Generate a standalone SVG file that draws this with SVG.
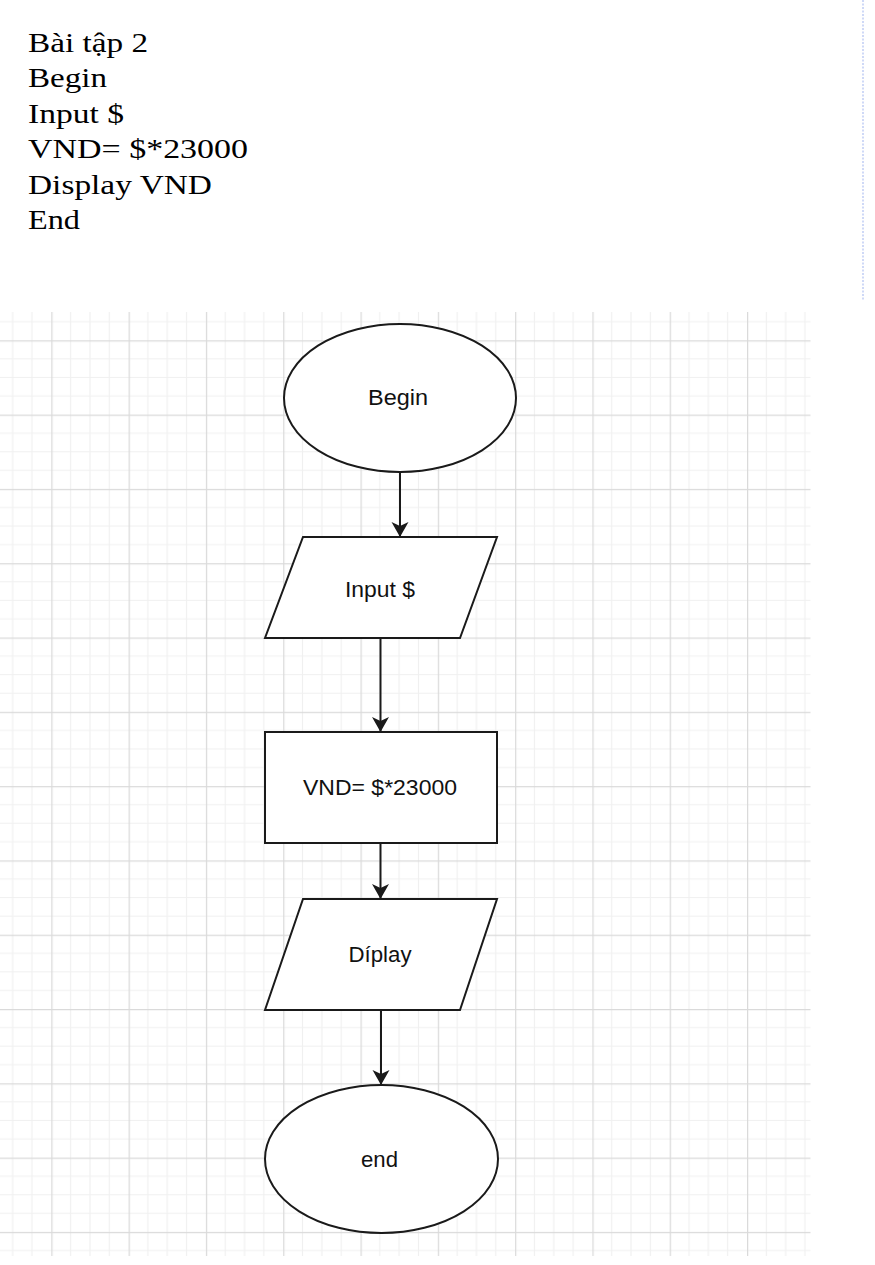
<svg xmlns="http://www.w3.org/2000/svg" width="875" height="1265" viewBox="0 0 875 1265">
<style>
.title{font-family:"Liberation Serif","Times New Roman",serif;font-size:28px;fill:#000}
.lbl{font-family:"Liberation Sans",Arial,sans-serif;font-size:22px;fill:#111;text-anchor:middle}
.shape{fill:#fff;stroke:#1a1a1a;stroke-width:2}
.conn{fill:none;stroke:#1a1a1a;stroke-width:2;marker-end:url(#arr)}
</style>
<defs>
<pattern id="grid" patternUnits="userSpaceOnUse" x="51.3" y="340.3" width="77.3" height="74.3">
<g stroke="#f0f0f0" stroke-width="1.2">
<line x1="19.33" y1="0" x2="19.33" y2="74.3"/>
<line x1="38.65" y1="0" x2="38.65" y2="74.3"/>
<line x1="57.98" y1="0" x2="57.98" y2="74.3"/>
<line x1="0" y1="18.58" x2="77.3" y2="18.58"/>
<line x1="0" y1="37.15" x2="77.3" y2="37.15"/>
<line x1="0" y1="55.73" x2="77.3" y2="55.73"/>
</g>
<g stroke="#dadada" stroke-width="1.5">
<line x1="0.5" y1="0" x2="0.5" y2="74.3"/>
<line x1="0" y1="0.5" x2="77.3" y2="0.5"/>
</g>
</pattern>
<marker id="arr" markerUnits="userSpaceOnUse" markerWidth="20" markerHeight="20" refX="15" refY="8.5" orient="auto">
<path d="M0,0 L15,8.5 L0,17 L4,8.5 Z" fill="#1a1a1a"/>
</marker>
</defs>
<rect x="0" y="0" width="875" height="1265" fill="#fff"/>
<rect x="0" y="312" width="810.5" height="944" fill="url(#grid)"/>
<line x1="863" y1="0" x2="863" y2="300" stroke="#9fb3ee" stroke-width="1" stroke-dasharray="2,1.5"/>
<g id="title-text">
<text class="title" x="28" y="51.7" textLength="120" lengthAdjust="spacingAndGlyphs">Bài tập 2</text>
<text class="title" x="28" y="87.2" textLength="79" lengthAdjust="spacingAndGlyphs">Begin</text>
<text class="title" x="28" y="122.7" textLength="96" lengthAdjust="spacingAndGlyphs">Input $</text>
<text class="title" x="28" y="158.2" textLength="220" lengthAdjust="spacingAndGlyphs">VND= $*23000</text>
<text class="title" x="28" y="193.7" textLength="184" lengthAdjust="spacingAndGlyphs">Display VND</text>
<text class="title" x="28" y="229.2" textLength="52" lengthAdjust="spacingAndGlyphs">End</text>
</g>
<g id="connectors">
<line class="conn" x1="400" y1="472" x2="400" y2="537"/>
<line class="conn" x1="380.5" y1="638" x2="380.5" y2="732"/>
<line class="conn" x1="380.5" y1="843" x2="380.5" y2="899"/>
<line class="conn" x1="381" y1="1010" x2="381" y2="1085"/>
</g>
<g id="begin">
<ellipse class="shape" cx="400" cy="398" rx="116" ry="74"/>
<text class="lbl" x="398" y="405" textLength="60" lengthAdjust="spacingAndGlyphs">Begin</text>
</g>
<g id="input">
<polygon class="shape" points="303,537 497,537 460,638 265,638"/>
<text class="lbl" x="380" y="597" textLength="70" lengthAdjust="spacingAndGlyphs">Input $</text>
</g>
<g id="compute">
<rect class="shape" x="265" y="732" width="232" height="111"/>
<text class="lbl" x="380" y="795" textLength="154" lengthAdjust="spacingAndGlyphs">VND= $*23000</text>
</g>
<g id="display">
<polygon class="shape" points="303,899 497,899 460,1010 265,1010"/>
<text class="lbl" x="380" y="962" textLength="63" lengthAdjust="spacingAndGlyphs">Díplay</text>
</g>
<g id="end">
<ellipse class="shape" cx="381.5" cy="1159" rx="116.5" ry="74"/>
<text class="lbl" x="379.5" y="1167" textLength="37" lengthAdjust="spacingAndGlyphs">end</text>
</g>
</svg>
